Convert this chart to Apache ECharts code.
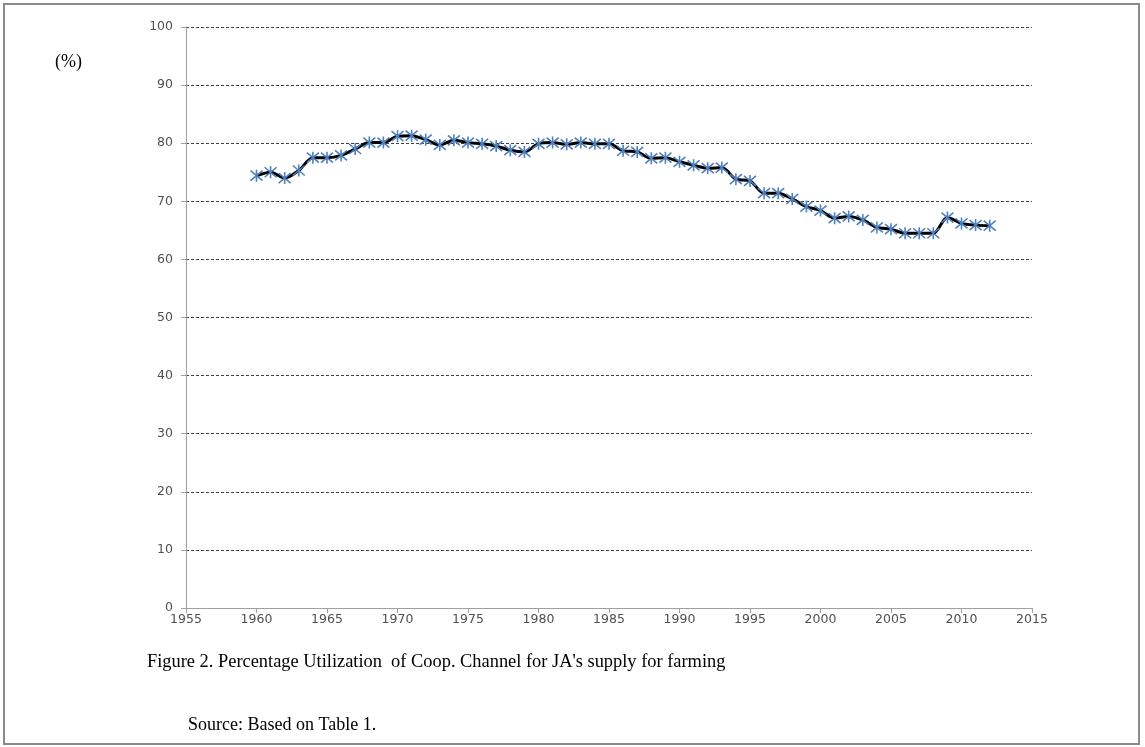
<!DOCTYPE html>
<html>
<head>
<meta charset="utf-8">
<script src="https://cdn.jsdelivr.net/npm/echarts@6/dist/echarts.min.js"></script>
<style>
html,body{margin:0;padding:0;background:#fff;}
#chart{width:1145px;height:747px;}
</style>
</head>
<body>
<div id="chart"></div>
<script>
var years = [1960,1961,1962,1963,1964,1965,1966,1967,1968,1969,1970,1971,1972,1973,1974,1975,1976,1977,1978,1979,1980,1981,1982,1983,1984,1985,1986,1987,1988,1989,1990,1991,1992,1993,1994,1995,1996,1997,1998,1999,2000,2001,2002,2003,2004,2005,2006,2007,2008,2009,2010,2011,2012];
var utilization = [74.4,75.0,74.0,75.3,77.5,77.5,77.9,79.0,80.1,80.1,81.2,81.3,80.6,79.7,80.5,80.1,79.9,79.5,78.8,78.5,79.9,80.1,79.8,80.1,79.9,79.9,78.7,78.5,77.4,77.5,76.8,76.2,75.7,75.8,73.8,73.5,71.4,71.4,70.4,69.1,68.4,67.1,67.4,66.8,65.5,65.2,64.5,64.5,64.5,67.2,66.2,65.9,65.8];
var yTicks = {min:0, max:100, interval:10};
var xTicks = {min:1955, max:2015, interval:5};
var captionText = "Figure 2. Percentage Utilization  of Coop. Channel for JA's supply for farming";
var sourceText = "Source: Based on Table 1.";
var unitText = "(%)";

var data = years.map(function(y,i){return [y, utilization[i]];});
var chart = echarts.init(document.getElementById('chart'));
chart.setOption({
  animation:false,
  backgroundColor:'#fff',
  grid:{left:186, right:113, top:27, bottom:139},
  xAxis:{type:'value', min:xTicks.min, max:xTicks.max, interval:xTicks.interval,
    axisLine:{lineStyle:{color:'#a0a0a0', width:1}},
    axisTick:{show:true, length:5, lineStyle:{color:'#a0a0a0'}},
    axisLabel:{color:'#505050', fontFamily:'DejaVu Sans', fontSize:12.5, margin:5, formatter:function(v){return String(v);}},
    splitLine:{show:false}},
  yAxis:{type:'value', min:yTicks.min, max:yTicks.max, interval:yTicks.interval,
    axisLine:{show:true, lineStyle:{color:'#a0a0a0', width:1}},
    axisTick:{show:true, length:5, lineStyle:{color:'#a0a0a0'}},
    axisLabel:{color:'#505050', fontFamily:'DejaVu Sans', fontSize:12.5, margin:13},
    splitLine:{show:true, lineStyle:{color:'#404040', type:[3,2], width:1}}},
  series:[{
    type:'line', data:data, smooth:0.3,
    lineStyle:{color:'#000', width:3},
    symbol:'path://M0,0L10,10M10,0L0,10M5,-1L5,11', symbolSize:12,
    itemStyle:{color:'rgba(0,0,0,0)', borderColor:'#4F81BD', borderWidth:1.6},
    z:3
  }],
  graphic:[
    {type:'rect', shape:{x:4, y:4, width:1135, height:740}, style:{fill:'none', stroke:'#8a8a8a', lineWidth:2}, silent:true},
    {type:'text', left:55, top:53, style:{text:unitText, font:'18px "Liberation Serif"', fill:'#000'}},
    {type:'text', left:147, top:653, style:{text:captionText, font:'18.4px "Liberation Serif"', fill:'#000'}},
    {type:'text', left:188, top:716, style:{text:sourceText, font:'18px "Liberation Serif"', fill:'#000'}}
  ]
});
</script>
</body>
</html>
